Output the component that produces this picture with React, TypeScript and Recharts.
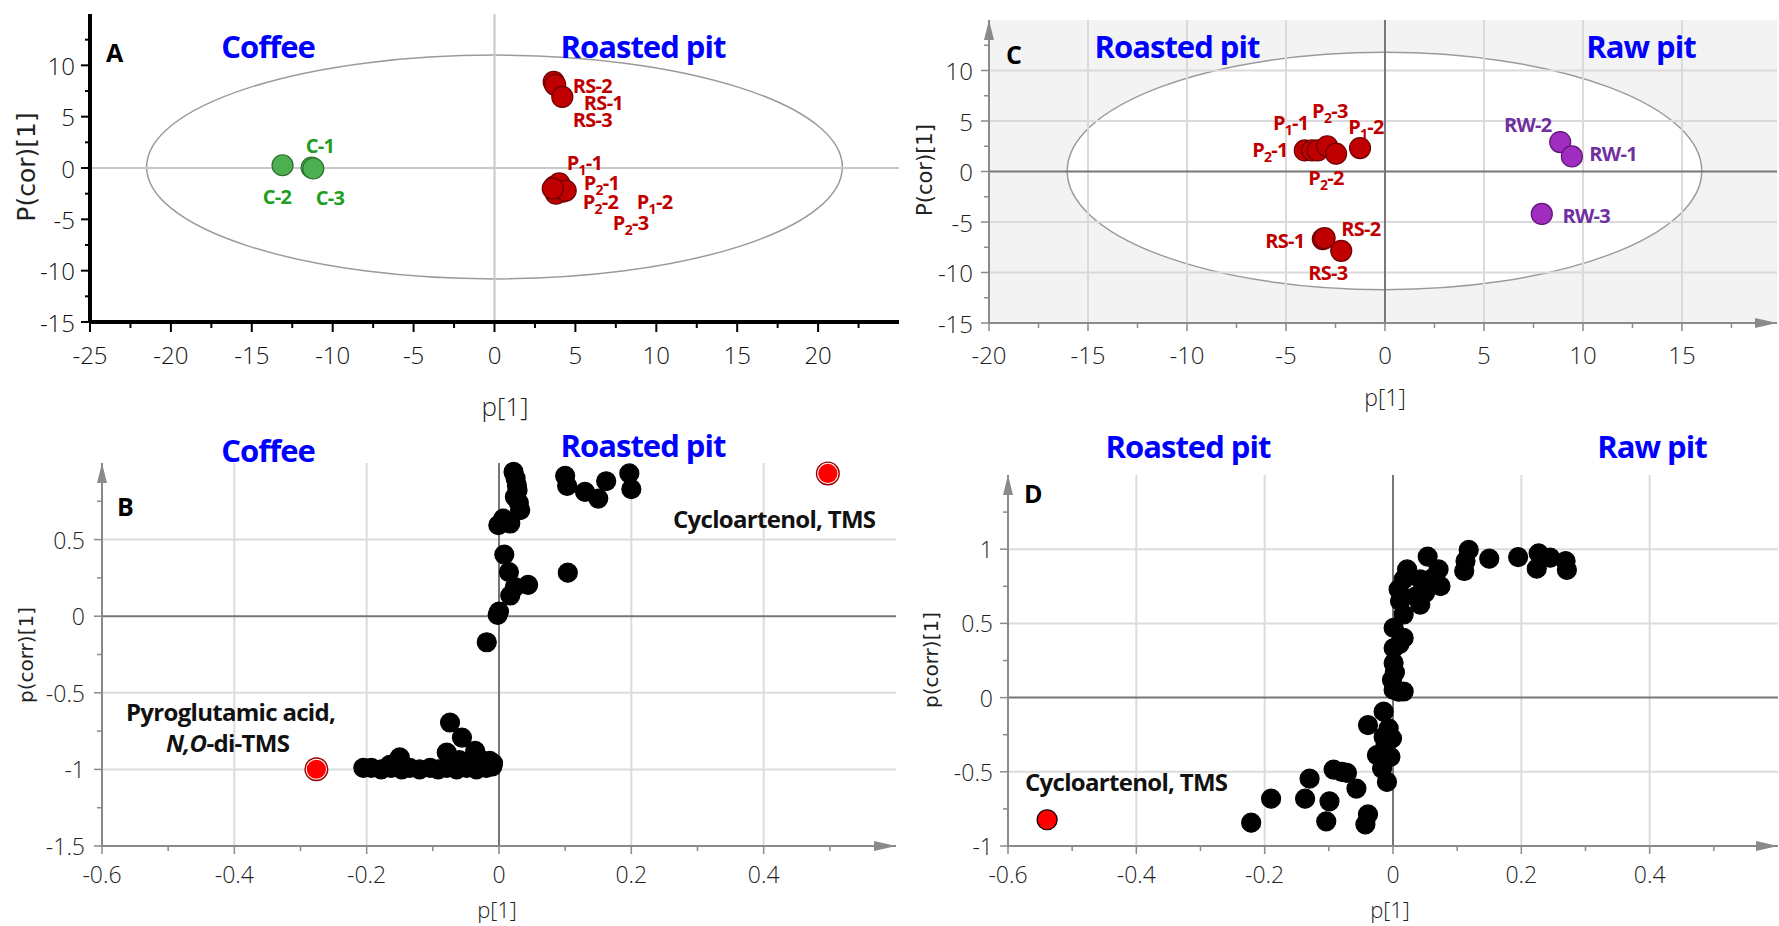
import React from 'react';
import { ScatterChart, Scatter, XAxis, YAxis, ReferenceLine, ReferenceArea, ReferenceDot } from 'recharts';

const TICK_FONT = "'Open Sans', 'DejaVu Sans', sans-serif";
const BOLD_FONT = "'Open Sans', 'DejaVu Sans', sans-serif";
const AXIS_TITLE_FONT = "'DejaVu Sans', sans-serif";

// ---------- Panel A: scores, coffee vs roasted pit ----------
const coffeeA = [{ x: -13.1, y: 0.27 }, { x: -11.3, y: 0.05 }, { x: -11.2, y: -0.05 }];
const roastedSeedA = [{ x: 3.66, y: 8.38 }, { x: 3.75, y: 8.1 }, { x: 4.19, y: 6.92 }];
const roastedPitA = [
  { x: 3.7, y: -1.8 }, { x: 4.0, y: -1.5 }, { x: 4.2, y: -2.3 },
  { x: 3.8, y: -2.5 }, { x: 4.4, y: -2.2 }, { x: 3.6, y: -2.0 },
];
const greenLabelsA = [
  { x: -11.67, y: 2.11, t: 'C-1' }, { x: -14.33, y: -2.86, t: 'C-2' }, { x: -11.05, y: -2.95, t: 'C-3' },
];
const redLabelsA = [
  { x: 4.83, y: 7.95, t: 'RS-2' }, { x: 5.52, y: 6.35, t: 'RS-1' }, { x: 4.83, y: 4.65, t: 'RS-3' },
  { x: 4.46, y: 0.46, t: 'P1-1' }, { x: 5.51, y: -1.49, t: 'P2-1' }, { x: 5.45, y: -3.34, t: 'P2-2' },
  { x: 8.79, y: -3.34, t: 'P1-2' }, { x: 7.31, y: -5.39, t: 'P2-3' },
];
const ellipseA = { x1: -21.5, x2: 21.5, y1: -10.8, y2: 11.0 };
const xMajorA = [-25, -20, -15, -10, -5, 0, 5, 10, 15, 20];
const xMinorA = [-22.5, -17.5, -12.5, -7.5, -2.5, 2.5, 7.5, 12.5, 17.5, 22.5];
const yMajorA = [-15, -10, -5, 0, 5, 10];
const yMinorA = [-12.5, -7.5, -2.5, 2.5, 7.5, 12.5];

// ---------- Panel C: scores, roasted pit vs raw pit ----------
const pitC = [
  { x: -4.05, y: 2.09 }, { x: -3.68, y: 2.09 }, { x: -3.4, y: 2.09 },
  { x: -2.92, y: 2.5 }, { x: -2.47, y: 1.76 }, { x: -1.26, y: 2.32 },
];
const roastedSeedC = [{ x: -3.14, y: -6.69 }, { x: -3.05, y: -6.6 }, { x: -2.21, y: -7.85 }];
const rawC = [{ x: 8.85, y: 2.91 }, { x: 9.44, y: 1.49 }, { x: 7.92, y: -4.2 }];
const redLabelsC = [
  { x: -5.66, y: 4.77, t: 'P1-1' }, { x: -3.68, y: 5.96, t: 'P2-3' }, { x: -1.86, y: 4.37, t: 'P1-2' },
  { x: -6.71, y: 2.09, t: 'P2-1' }, { x: -3.88, y: -0.6, t: 'P2-2' },
  { x: -6.05, y: -6.86, t: 'RS-1' }, { x: -2.21, y: -5.67, t: 'RS-2' }, { x: -3.88, y: -10.04, t: 'RS-3' },
];
const purpleLabelsC = [
  { x: 6.01, y: 4.57, t: 'RW-2' }, { x: 10.32, y: 1.69, t: 'RW-1' }, { x: 8.96, y: -4.37, t: 'RW-3' },
];
const ellipseC = { x1: -16.05, x2: 16.0, y1: -11.7, y2: 11.8 };
const xMajorC = [-20, -15, -10, -5, 0, 5, 10, 15];
const xMinorC = [-17.5, -12.5, -7.5, -2.5, 2.5, 7.5, 12.5, 17.5];
const yMajorC = [-15, -10, -5, 0, 5, 10];
const yMinorC = [-12.5, -7.5, -2.5, 2.5, 7.5, 12.5];
const xGridC = [-15, -10, -5, 5, 10, 15];
const yGridC = [-10, -5, 5, 10];

// ---------- Panel B: S-plot, coffee vs roasted pit ----------
const variablesB = [
  { x: 0.022, y: 0.942 }, { x: 0.025, y: 0.9 }, { x: 0.027, y: 0.855 }, { x: 0.028, y: 0.82 },
  { x: 0.024, y: 0.779 }, { x: 0.03, y: 0.74 }, { x: 0.032, y: 0.692 }, { x: 0.0065, y: 0.637 },
  { x: -0.001, y: 0.594 }, { x: 0.017, y: 0.605 }, { x: 0.1, y: 0.916 }, { x: 0.103, y: 0.851 },
  { x: 0.13, y: 0.812 }, { x: 0.15, y: 0.768 }, { x: 0.162, y: 0.881 }, { x: 0.197, y: 0.932 },
  { x: 0.2, y: 0.829 }, { x: 0.008, y: 0.402 }, { x: 0.015, y: 0.288 }, { x: 0.024, y: 0.19 },
  { x: 0.044, y: 0.205 }, { x: 0.017, y: 0.135 }, { x: 0.104, y: 0.284 }, { x: -0.002, y: 0.009 },
  { x: 0.0, y: 0.03 }, { x: -0.0185, y: -0.17 },
  { x: -0.074, y: -0.694 }, { x: -0.056, y: -0.792 }, { x: -0.079, y: -0.89 }, { x: -0.036, y: -0.879 },
  { x: -0.15, y: -0.922 }, { x: -0.014, y: -0.944 }, { x: -0.205, y: -0.99 }, { x: -0.193, y: -0.99 },
  { x: -0.178, y: -1.0 }, { x: -0.163, y: -0.99 }, { x: -0.147, y: -1.0 }, { x: -0.135, y: -0.99 },
  { x: -0.12, y: -1.0 }, { x: -0.104, y: -0.99 }, { x: -0.092, y: -1.0 }, { x: -0.079, y: -0.99 },
  { x: -0.064, y: -1.0 }, { x: -0.049, y: -0.99 }, { x: -0.034, y: -1.0 }, { x: -0.019, y: -0.99 },
  { x: -0.009, y: -0.96 }, { x: -0.165, y: -0.97 }, { x: -0.07, y: -0.96 }, { x: -0.045, y: -0.95 },
  { x: -0.03, y: -0.93 }, { x: -0.02, y: -0.97 }, { x: -0.055, y: -0.97 }, { x: -0.04, y: -0.975 },
  { x: -0.01, y: -0.98 }, { x: -0.06, y: -0.94 },
];
const markedB = [{ x: 0.497, y: 0.932 }, { x: -0.276, y: -0.999 }];
const xMajorB = [-0.6, -0.4, -0.2, 0, 0.2, 0.4];
const xMinorB = [-0.5, -0.3, -0.1, 0.1, 0.3, 0.5];
const yMajorB = [-1.5, -1, -0.5, 0, 0.5];
const yMinorB = [-1.25, -0.75, -0.25, 0.25, 0.75];
const xGridB = [-0.4, -0.2, 0.2, 0.4];
const yGridB = [-1, -0.5, 0.5];

// ---------- Panel D: S-plot, roasted pit vs raw pit ----------
const variablesD = [
  { x: 0.118, y: 0.995 }, { x: 0.113, y: 0.92 }, { x: 0.111, y: 0.853 }, { x: 0.15, y: 0.936 },
  { x: 0.195, y: 0.947 }, { x: 0.227, y: 0.972 }, { x: 0.245, y: 0.943 }, { x: 0.269, y: 0.92 },
  { x: 0.224, y: 0.869 }, { x: 0.271, y: 0.86 }, { x: 0.054, y: 0.95 }, { x: 0.071, y: 0.864 },
  { x: 0.074, y: 0.751 }, { x: 0.022, y: 0.864 }, { x: 0.0166, y: 0.796 }, { x: 0.0425, y: 0.796 },
  { x: 0.0425, y: 0.627 }, { x: 0.05, y: 0.706 }, { x: 0.0088, y: 0.729 }, { x: 0.011, y: 0.65 },
  { x: 0.0166, y: 0.56 }, { x: 0.001, y: 0.47 }, { x: 0.0166, y: 0.402 }, { x: 0.001, y: 0.334 },
  { x: 0.001, y: 0.233 }, { x: -0.0016, y: 0.12 }, { x: 0.0166, y: 0.041 }, { x: 0.001, y: 0.052 },
  { x: 0.06, y: 0.8 }, { x: 0.035, y: 0.68 }, { x: 0.01, y: 0.36 }, { x: 0.003, y: 0.17 },
  { x: -0.221, y: -0.843 }, { x: -0.19, y: -0.681 }, { x: -0.13, y: -0.546 }, { x: -0.137, y: -0.681 },
  { x: -0.099, y: -0.699 }, { x: -0.104, y: -0.834 }, { x: -0.0926, y: -0.485 }, { x: -0.0718, y: -0.507 },
  { x: -0.08, y: -0.5 }, { x: -0.057, y: -0.613 }, { x: -0.039, y: -0.787 }, { x: -0.043, y: -0.855 },
  { x: -0.039, y: -0.185 }, { x: -0.0146, y: -0.095 }, { x: -0.0068, y: -0.207 }, { x: -0.0016, y: -0.275 },
  { x: -0.025, y: -0.388 }, { x: -0.004, y: -0.399 }, { x: -0.017, y: -0.478 }, { x: -0.0094, y: -0.568 },
  { x: -0.0146, y: -0.264 }, { x: -0.012, y: -0.33 }, { x: 0.0088, y: 0.04 },
];
const markedD = [{ x: -0.539, y: -0.823 }];
const xMajorD = [-0.6, -0.4, -0.2, 0, 0.2, 0.4];
const xMinorD = [-0.5, -0.3, -0.1, 0.1, 0.3, 0.5];
const yMajorD = [-1, -0.5, 0, 0.5, 1];
const yMinorD = [-0.75, -0.25, 0.25, 0.75, 1.25];
const xGridD = [-0.4, -0.2, 0.2, 0.4];
const yGridD = [-0.5, 0.5, 1];

const merge = (a: number[], b: number[]) => [...a, ...b].sort((p, q) => p - q);

interface TickStyle {
  majors: number[];
  color: string;
  textColor: string;
  fontSize: number;
  major: number;
  minor: number;
  gap: number;
  width: number;
}

const isIn = (list: number[], v: number) => list.some((m) => Math.abs(m - v) < 1e-9);

const xTick = (s: TickStyle) => (p: any) => {
  const v = p.payload.value as number;
  const major = isIn(s.majors, v);
  return (
    <g>
      <line x1={p.x} x2={p.x} y1={p.y} y2={p.y + (major ? s.major : s.minor)} stroke={s.color} strokeWidth={s.width} />
      {major && (
        <text x={p.x} y={p.y + s.gap} textAnchor="middle" dominantBaseline="central"
          fontFamily={TICK_FONT} fontWeight={300} fontSize={s.fontSize} fill={s.textColor}>
          {String(v)}
        </text>
      )}
    </g>
  );
};

const yTick = (s: TickStyle) => (p: any) => {
  const v = p.payload.value as number;
  const major = isIn(s.majors, v);
  return (
    <g>
      <line x1={p.x} x2={p.x - (major ? s.major : s.minor)} y1={p.y} y2={p.y} stroke={s.color} strokeWidth={s.width} />
      {major && (
        <text x={p.x - s.gap} y={p.y} textAnchor="end" dominantBaseline="central"
          fontFamily={TICK_FONT} fontWeight={300} fontSize={s.fontSize} fill={s.textColor}>
          {String(v)}
        </text>
      )}
    </g>
  );
};

const dot = (r: number, fill: string, stroke: string) => (p: any) => (
  <circle cx={p.cx} cy={p.cy} r={r} fill={fill} stroke={stroke} strokeWidth={1.2} />
);

const ringDot = (p: any) => (
  <g>
    <circle cx={p.cx} cy={p.cy} r={12} fill="#9b0000" />
    <circle cx={p.cx} cy={p.cy} r={10.6} fill="#ffffff" />
    <circle cx={p.cx} cy={p.cy} r={9.6} fill="#ff0000" />
  </g>
);

const pointLabel = (color: string) => (p: any) => {
  const t: string = p.payload.t;
  const m = /^P(\d)(-\d)$/.exec(t);
  return (
    <text x={p.cx} y={p.cy} dy={7} fill={color} fontFamily={BOLD_FONT} fontWeight={700} fontSize={20} letterSpacing={-0.7}>
      {m ? (
        <>
          P<tspan fontSize={14} dy={5}>{m[1]}</tspan><tspan dy={-5}>{m[2]}</tspan>
        </>
      ) : t}
    </text>
  );
};

const ellipseShape = (fill: string) => (p: any) => (
  <ellipse cx={p.x + p.width / 2} cy={p.y + p.height / 2} rx={p.width / 2} ry={p.height / 2}
    fill={fill} stroke="#9a9a9a" strokeWidth={1.5} />
);

const upArrow = (p: any) => (
  <polygon points={`${p.cx - 5},${p.cy + 20} ${p.cx + 5},${p.cy + 20} ${p.cx},${p.cy}`} fill="#8a8a8a" />
);
const rightArrow = (p: any) => (
  <polygon points={`${p.cx - 22},${p.cy - 5} ${p.cx - 22},${p.cy + 5} ${p.cx},${p.cy}`} fill="#8a8a8a" />
);

const grayTicks = (majors: number[]): TickStyle => ({
  majors, color: '#8a8a8a', textColor: '#222', fontSize: 23, major: 8, minor: 5, gap: 28, width: 1.5,
});

const PanelA = () => (
  <ScatterChart width={900} height={420} margin={{ top: 14, right: 1, bottom: 0, left: 0 }}>
    <XAxis type="number" dataKey="x" domain={[-25, 25]} ticks={merge(xMajorA, xMinorA)} interval={0}
      height={98} tickSize={0} tickMargin={0} tickLine={false} axisLine={{ stroke: '#000', strokeWidth: 4 }}
      tick={xTick({ majors: xMajorA, color: '#000', textColor: '#111', fontSize: 24, major: 10, minor: 6, gap: 32, width: 2 })} />
    <YAxis type="number" dataKey="y" domain={[-15, 15]} ticks={merge(yMajorA, yMinorA)} interval={0}
      width={90} tickSize={0} tickMargin={0} tickLine={false} axisLine={{ stroke: '#000', strokeWidth: 4 }}
      tick={yTick({ majors: yMajorA, color: '#000', textColor: '#111', fontSize: 24, major: 9, minor: 5, gap: 15, width: 2 })} />
    <ReferenceArea {...ellipseA} shape={ellipseShape('none')} ifOverflow="visible" />
    <ReferenceLine x={0} stroke="#c8c8c8" strokeWidth={2} />
    <ReferenceLine y={0} stroke="#c8c8c8" strokeWidth={2} />
    <Scatter data={coffeeA} shape={dot(10.5, '#4caf50', '#2d6e2f')} isAnimationActive={false} />
    <Scatter data={roastedSeedA} shape={dot(10.5, '#c00000', '#6e0000')} isAnimationActive={false} />
    <Scatter data={roastedPitA} shape={dot(10.5, '#c00000', '#6e0000')} isAnimationActive={false} />
    <Scatter data={greenLabelsA} shape={pointLabel('#1e9e1e')} isAnimationActive={false} />
    <Scatter data={redLabelsA} shape={pointLabel('#c00000')} isAnimationActive={false} />
  </ScatterChart>
);

const PanelC = () => (
  <ScatterChart width={879} height={420} margin={{ top: 20, right: 2, bottom: 0, left: 0 }}>
    <XAxis type="number" dataKey="x" domain={[-20, 19.8]} ticks={merge(xMajorC, xMinorC)} interval={0}
      height={97} tickSize={0} tickMargin={0} tickLine={false} axisLine={{ stroke: '#8a8a8a', strokeWidth: 2 }}
      tick={xTick({ ...grayTicks(xMajorC), fontSize: 24, gap: 31 })} />
    <YAxis type="number" dataKey="y" domain={[-15, 15]} ticks={merge(yMajorC, yMinorC)} interval={0}
      width={89} tickSize={0} tickMargin={0} tickLine={false} axisLine={{ stroke: '#8a8a8a', strokeWidth: 2 }}
      tick={yTick({ ...grayTicks(yMajorC), fontSize: 24, gap: 16 })} />
    <ReferenceArea x1={-20} x2={19.8} y1={-15} y2={15} fill="#f3f3f3" fillOpacity={1} stroke="none" />
    <ReferenceArea {...ellipseC} shape={ellipseShape('#ffffff')} ifOverflow="visible" />
    {xGridC.map((v) => <ReferenceLine key={`gx${v}`} x={v} stroke="#dadada" strokeWidth={2} />)}
    {yGridC.map((v) => <ReferenceLine key={`gy${v}`} y={v} stroke="#dadada" strokeWidth={2} />)}
    <ReferenceLine x={0} stroke="#777" strokeWidth={2} />
    <ReferenceLine y={0} stroke="#777" strokeWidth={2} />
    <ReferenceDot x={-20} y={15} shape={upArrow} ifOverflow="visible" />
    <ReferenceDot x={19.8} y={-15} shape={rightArrow} ifOverflow="visible" />
    <Scatter data={pitC} shape={dot(10.5, '#c00000', '#6e0000')} isAnimationActive={false} />
    <Scatter data={roastedSeedC} shape={dot(10.5, '#c00000', '#6e0000')} isAnimationActive={false} />
    <Scatter data={rawC} shape={dot(10.5, '#a12cc0', '#5e1478')} isAnimationActive={false} />
    <Scatter data={redLabelsC} shape={pointLabel('#c00000')} isAnimationActive={false} />
    <Scatter data={purpleLabelsC} shape={pointLabel('#7030a0')} isAnimationActive={false} />
  </ScatterChart>
);

const PanelB = () => (
  <ScatterChart width={900} height={506} margin={{ top: 43, right: 4, bottom: 0, left: 0 }}>
    <XAxis type="number" dataKey="x" domain={[-0.6, 0.6]} ticks={merge(xMajorB, xMinorB)} interval={0}
      height={80} tickSize={0} tickMargin={0} tickLine={false} axisLine={{ stroke: '#8a8a8a', strokeWidth: 2 }}
      tick={xTick(grayTicks(xMajorB))} />
    <YAxis type="number" dataKey="y" domain={[-1.5, 1]} ticks={merge(yMajorB, yMinorB)} interval={0}
      width={102} tickSize={0} tickMargin={0} tickLine={false} axisLine={{ stroke: '#8a8a8a', strokeWidth: 2 }}
      tick={yTick({ ...grayTicks(yMajorB), gap: 17 })} />
    {xGridB.map((v) => <ReferenceLine key={`gx${v}`} x={v} stroke="#dcdcdc" strokeWidth={2} />)}
    {yGridB.map((v) => <ReferenceLine key={`gy${v}`} y={v} stroke="#dcdcdc" strokeWidth={2} />)}
    <ReferenceLine x={0} stroke="#777" strokeWidth={2} />
    <ReferenceLine y={0} stroke="#777" strokeWidth={2} />
    <ReferenceDot x={-0.6} y={1} shape={upArrow} ifOverflow="visible" />
    <ReferenceDot x={0.6} y={-1.5} shape={rightArrow} ifOverflow="visible" />
    <Scatter data={variablesB} shape={dot(9.5, '#000', '#000')} isAnimationActive={false} />
    <Scatter data={markedB} shape={ringDot} isAnimationActive={false} />
  </ScatterChart>
);

const PanelD = () => (
  <ScatterChart width={879} height={506} margin={{ top: 55, right: 1, bottom: 0, left: 0 }}>
    <XAxis type="number" dataKey="x" domain={[-0.6, 0.6]} ticks={merge(xMajorD, xMinorD)} interval={0}
      height={80} tickSize={0} tickMargin={0} tickLine={false} axisLine={{ stroke: '#8a8a8a', strokeWidth: 2 }}
      tick={xTick(grayTicks(xMajorD))} />
    <YAxis type="number" dataKey="y" domain={[-1, 1.5]} ticks={merge(yMajorD, yMinorD)} interval={0}
      width={108} tickSize={0} tickMargin={0} tickLine={false} axisLine={{ stroke: '#8a8a8a', strokeWidth: 2 }}
      tick={yTick({ ...grayTicks(yMajorD), gap: 15 })} />
    {xGridD.map((v) => <ReferenceLine key={`gx${v}`} x={v} stroke="#dcdcdc" strokeWidth={2} />)}
    {yGridD.map((v) => <ReferenceLine key={`gy${v}`} y={v} stroke="#dcdcdc" strokeWidth={2} />)}
    <ReferenceLine x={0} stroke="#777" strokeWidth={2} />
    <ReferenceLine y={0} stroke="#777" strokeWidth={2} />
    <ReferenceDot x={-0.6} y={1.5} shape={upArrow} ifOverflow="visible" />
    <ReferenceDot x={0.6} y={-1} shape={rightArrow} ifOverflow="visible" />
    <Scatter data={variablesD} shape={dot(9.5, '#000', '#000')} isAnimationActive={false} />
    <Scatter data={markedD} shape={dot(10, '#ff0000', '#000')} isAnimationActive={false} />
  </ScatterChart>
);

const blue = { fill: '#0000ff', fontFamily: BOLD_FONT, fontWeight: 700, fontSize: 31, letterSpacing: -1 } as const;
const black = { fill: '#111', fontFamily: BOLD_FONT, fontWeight: 700, fontSize: 24, letterSpacing: -0.7 } as const;
const letter = { fill: '#000', fontFamily: BOLD_FONT, fontWeight: 700, fontSize: 25 } as const;
const xTitle = { fill: '#222', fontFamily: TICK_FONT, fontWeight: 300, textAnchor: 'middle' } as const;
const yTitle = { fill: '#222', fontFamily: AXIS_TITLE_FONT, textAnchor: 'middle' } as const;

const Annotations = () => (
  <svg width={1779} height={926} style={{ position: 'absolute', left: 0, top: 0, pointerEvents: 'none' }}>
    {/* panel A */}
    <text x={106} y={62} {...letter}>A</text>
    <text x={268} y={58} textAnchor="middle" {...blue}>Coffee</text>
    <text x={643} y={58} textAnchor="middle" {...blue}>Roasted pit</text>
    <text x={505} y={416} fontSize={26} {...xTitle}>p[1]</text>
    <text transform="translate(35,167) rotate(-90)" fontSize={25} {...yTitle}>P(cor)[1]</text>
    {/* panel C */}
    <text x={1006} y={64} {...letter}>C</text>
    <text x={1177} y={58} textAnchor="middle" {...blue}>Roasted pit</text>
    <text x={1641} y={58} textAnchor="middle" {...blue}>Raw pit</text>
    <text x={1385} y={406} fontSize={23} {...xTitle}>p[1]</text>
    <text transform="translate(932,170) rotate(-90)" fontSize={21} {...yTitle}>P(cor)[1]</text>
    {/* panel B */}
    <text x={117} y={516} {...letter}>B</text>
    <text x={268} y={462} textAnchor="middle" {...blue}>Coffee</text>
    <text x={643} y={457} textAnchor="middle" {...blue}>Roasted pit</text>
    <text x={673} y={528} {...black}>Cycloartenol, TMS</text>
    <text x={126} y={721} {...black}>Pyroglutamic acid,</text>
    <text x={166} y={752} {...black}><tspan fontStyle="italic">N,O</tspan>-di-TMS</text>
    <text x={497} y={918} fontSize={22} {...xTitle}>p[1]</text>
    <text transform="translate(33,655) rotate(-90)" fontSize={20} {...yTitle}>p(corr)[1]</text>
    {/* panel D */}
    <text x={1024} y={503} {...letter}>D</text>
    <text x={1188} y={458} textAnchor="middle" {...blue}>Roasted pit</text>
    <text x={1652} y={458} textAnchor="middle" {...blue}>Raw pit</text>
    <text x={1025} y={791} {...black}>Cycloartenol, TMS</text>
    <text x={1390} y={918} fontSize={22} {...xTitle}>p[1]</text>
    <text transform="translate(938,660) rotate(-90)" fontSize={20} {...yTitle}>p(corr)[1]</text>
  </svg>
);

export default function App() {
  return (
    <div style={{ position: 'absolute', left: 0, top: 0, width: 1779, height: 926, background: '#fff', overflow: 'hidden' }}>
      <div style={{ position: 'absolute', left: 0, top: 0 }}><PanelA /></div>
      <div style={{ position: 'absolute', left: 900, top: 0 }}><PanelC /></div>
      <div style={{ position: 'absolute', left: 0, top: 420 }}><PanelB /></div>
      <div style={{ position: 'absolute', left: 900, top: 420 }}><PanelD /></div>
      <Annotations />
    </div>
  );
}
